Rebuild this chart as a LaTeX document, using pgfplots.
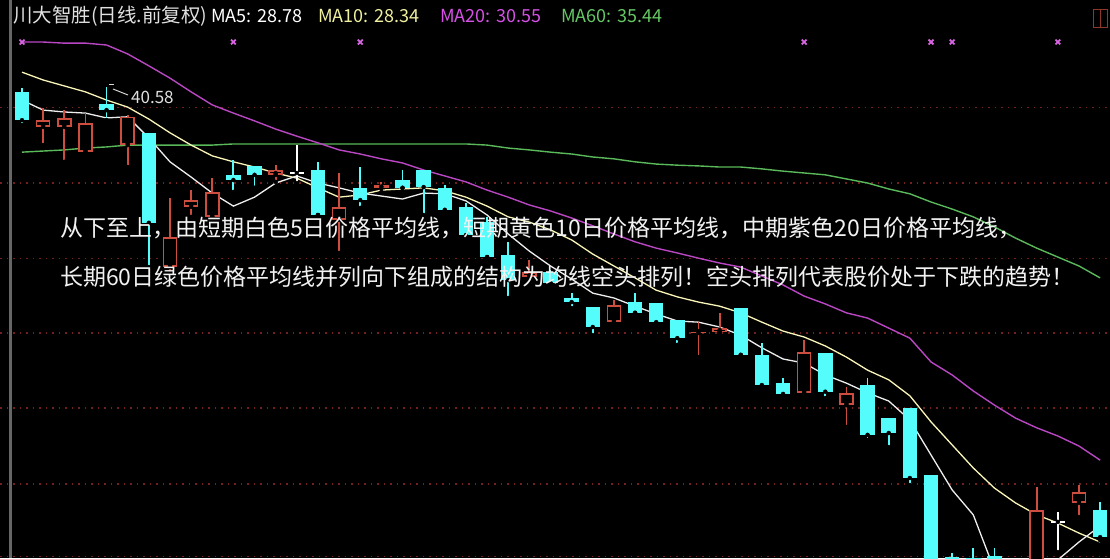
\documentclass[border=0pt]{standalone}
\usepackage{fontspec}
\usepackage{pgfplots}
\pgfplotsset{compat=1.18}
\usepackage{pgfplotstable}
\newfontfamily\cjk{Noto Sans CJK SC}
\definecolor{kcyan}{RGB}{84,252,252}
\definecolor{kred}{RGB}{205,78,62}
\definecolor{kgrid}{RGB}{115,32,32}
\definecolor{ma5c}{RGB}{238,238,238}
\definecolor{ma10c}{RGB}{250,245,185}
\definecolor{ma20c}{RGB}{185,70,195}
\definecolor{ma60c}{RGB}{90,185,90}
\definecolor{mkc}{RGB}{215,100,225}
\definecolor{t10}{RGB}{240,240,160}
\definecolor{t20}{RGB}{215,80,230}
\definecolor{t60}{RGB}{100,200,100}

% down (cyan) candles: index open high low close
\pgfplotstableread{
i o h l c
0 40.44 40.54 39.55 39.68
4 40.11 40.57 39.68 39.95
6 39.34 39.34 35.73 36.92
10 38.21 38.61 37.75 38.07
11 38.45 38.45 37.86 38.21
14 38.34 38.56 37.13 37.13
16 37.86 38.42 37.32 37.53
18 38.07 38.34 37.86 37.86
19 38.34 38.34 37.13 37.88
20 37.86 37.94 37.21 37.27
21 37.35 37.45 36.51 36.59
22 36.94 37.08 36.00 36.00
23 36.06 36.41 34.90 35.38
25 35.60 35.65 35.30 35.30
26 34.90 35.03 34.63 34.79
27 34.66 34.66 33.90 34.12
29 34.79 35.03 34.50 34.50
30 34.77 34.77 34.23 34.25
31 34.31 34.31 33.64 33.82
34 34.63 34.63 33.37 33.37
35 33.37 33.69 32.51 32.56
36 32.61 32.75 32.24 32.32
38 33.42 33.42 32.21 32.38
40 32.56 32.75 31.08 31.22
41 31.67 31.67 30.89 31.27
42 31.94 31.94 29.87 30.06
43 30.14 30.14 26.50 26.78
44 27.95 28.04 27.40 27.60
45 27.90 28.18 27.50 27.70
46 27.97 28.18 27.70 27.85
47 27.60 27.80 27.20 27.40
51 29.20 29.42 28.39 28.47
}\dncandles

% up (red, hollow) candles
\pgfplotstableread{
i o h l c
1 39.50 40.01 39.01 39.68
2 39.50 39.95 38.56 39.74
3 38.82 39.87 38.82 39.60
5 39.01 39.82 38.42 39.77
7 35.73 37.59 35.57 36.54
8 37.35 37.80 37.08 37.53
9 37.08 38.12 37.08 37.75
12 38.21 38.47 38.02 38.34
15 37.00 38.26 36.11 37.35
17 37.85 38.02 37.75 37.93
24 35.46 35.92 35.38 35.60
28 34.25 34.85 34.25 34.71
32 33.96 34.25 33.31 33.99
33 33.99 34.50 33.99 34.09
37 32.35 33.77 32.24 33.45
39 32.02 32.51 31.43 32.35
48 27.60 29.82 27.40 29.20
50 29.39 29.87 29.01 29.68
}\upcandles

% doji (white) candles
\pgfplotstableread{
i o h l c
13 38.26 39.01 37.99 38.26
49 28.88 29.15 28.07 28.88
}\djcandles

% moving averages
\pgfplotstableread{
i ma5 ma10 ma20 ma60
0 40.22 40.97 41.78 38.82
1 39.95 40.76 41.78 38.85
2 39.90 40.60 41.75 38.88
3 39.87 40.44 41.75 38.93
4 39.74 40.22 41.70 38.96
5 39.77 40.03 41.46 39.01
6 39.20 39.71 41.14 39.01
7 38.56 39.34 40.81 39.01
8 38.15 39.01 40.44 39.01
9 37.72 38.72 40.09 39.01
10 37.37 38.56 39.87 39.04
11 37.61 38.42 39.66 39.04
12 37.99 38.26 39.44 39.04
13 38.18 38.12 39.25 39.04
14 37.99 37.86 39.07 39.04
15 37.86 37.61 38.88 39.04
16 37.72 37.67 38.77 39.04
17 37.64 37.80 38.64 39.04
18 37.56 37.83 38.53 39.04
19 37.72 37.86 38.34 39.04
20 37.70 37.78 38.18 39.04
21 37.51 37.61 38.02 39.04
22 37.13 37.37 37.80 39.01
23 36.62 37.08 37.61 38.93
24 36.16 36.94 37.40 38.88
25 35.76 36.73 37.24 38.82
26 35.41 36.46 37.05 38.77
27 35.03 36.08 36.84 38.69
28 34.90 35.76 36.62 38.64
29 34.68 35.44 36.41 38.56
30 34.47 35.11 36.24 38.50
31 34.28 34.93 36.11 38.47
32 34.25 34.79 35.97 38.45
33 34.12 34.68 35.84 38.42
34 33.90 34.50 35.73 38.42
35 33.56 34.25 35.49 38.37
36 33.26 34.01 35.25 38.31
37 33.15 33.85 34.95 38.26
38 32.83 33.61 34.74 38.21
39 32.61 33.31 34.50 38.10
40 32.35 32.96 34.36 37.99
41 32.13 32.70 34.09 37.83
42 31.62 32.27 33.82 37.70
43 30.68 31.57 33.18 37.48
44 29.74 30.95 32.83 37.29
45 29.07 30.33 32.40 37.08
46 27.59 29.79 32.02 36.81
47 27.32 29.39 31.67 36.51
48 27.53 29.07 31.41 36.24
49 27.86 28.85 31.19 36.00
50 28.34 28.58 30.92 35.76
51 28.77 28.34 30.54 35.44
}\mas

% event markers
\pgfplotstableread{
i y
0 41.78
10 41.78
16 41.78
37 41.78
43 41.78
44 41.78
49 41.78
}\marks

\begin{document}
\begin{tikzpicture}
\fill[black] (0,0) rectangle (1110pt,558pt);
\path[use as bounding box] (0,0) rectangle (1110pt,558pt);
\fill[black!60!white] (9pt,0pt) rectangle (12pt,558pt);
\begin{axis}[
  at={(0pt,0pt)}, anchor=south west,
  scale only axis, width=1110pt, height=558pt,
  xmin=-1.0407, xmax=51.466, ymin=27.91, ymax=42.91,
  axis line style={draw=none},
  xtick=\empty,
  ytick={40.01,37.99,35.97,33.96,31.94,29.90,27.96},
  yticklabels={},
  major tick length=0pt,
  ymajorgrids,
  grid style={kgrid, line width=1.2pt, dash pattern=on 1.5pt off 5pt},
]
% MA lines
\addplot[ma60c, line width=1.4pt] table[x=i, y=ma60] {\mas};
\addplot[ma20c, line width=1.4pt] table[x=i, y=ma20] {\mas};
\addplot[ma10c, line width=1.3pt] table[x=i, y=ma10] {\mas};
\addplot[ma5c, line width=1.3pt] table[x=i, y=ma5] {\mas};

% wicks
\addplot[only marks, mark=none, error bars/.cd, y dir=plus, y explicit, error mark=none,
  error bar style={kcyan, line width=1.8pt}]
  table[x=i, y=l, y error plus expr={\thisrow{h}-\thisrow{l}}] {\dncandles};
\addplot[only marks, mark=none, error bars/.cd, y dir=plus, y explicit, error mark=none,
  error bar style={kred, line width=1.8pt}]
  table[x=i, y=l, y error plus expr={\thisrow{h}-\thisrow{l}}] {\upcandles};
\addplot[only marks, mark=none, error bars/.cd, y dir=plus, y explicit, error mark=none,
  error bar style={white, line width=1.8pt}]
  table[x=i, y=l, y error plus expr={\thisrow{h}-\thisrow{l}}] {\djcandles};

% bodies
\addplot[only marks, mark=none, error bars/.cd, y dir=plus, y explicit, error mark=none,
  error bar style={kcyan, line width=14.5pt}]
  table[x=i, y=c, y error plus expr={\thisrow{o}-\thisrow{c}}] {\dncandles};
\addplot[only marks, mark=none, error bars/.cd, y dir=plus, y explicit, error mark=none,
  error bar style={kred, line width=14.5pt}]
  table[x=i, y=o, y error plus expr={\thisrow{c}-\thisrow{o}}] {\upcandles};
\addplot[only marks, mark=none, error bars/.cd, y dir=plus, y explicit, error mark=none,
  error bar style={black, line width=11.5pt}]
  table[x=i, y expr={\thisrow{o}+0.045}, y error plus expr={max(\thisrow{c}-\thisrow{o}-0.09,0)}] {\upcandles};
\addplot[only marks, mark=none, error bars/.cd, x dir=both, x fixed=0.33, error mark=none,
  error bar style={white, line width=1.8pt}]
  table[x=i, y=o] {\djcandles};

% markers
\addplot[only marks, mark=x, mark size=3.4pt, mkc, line width=1.8pt] table[x=i, y=y] {\marks};
\end{axis}

% annotations (pixel positions: x, 558-y)
\draw[black!15!white, line width=1pt] (109pt,473pt) -- (114pt,473pt);
\draw[black!15!white, line width=1pt] (113pt,469pt) -- (128pt,463pt);
\node[anchor=west, inner sep=0pt, text=black!12!white, font=\cjk\fontsize{17}{17}\selectfont] at (131pt,461pt) {40.58};

\draw[kred!70!black, line width=1pt] (1093pt,530pt) rectangle (1107pt,548pt);
\draw[kred!70!black, line width=1pt] (1100pt,530pt) -- (1100pt,548pt);

% title
\node[anchor=base west, inner sep=0pt, text=black!12!white, font=\cjk\fontsize{19.5}{19.5}\selectfont] at (13pt,535pt) {川大智胜(日线.前复权)};
\node[anchor=base west, inner sep=0pt, text=white, font=\cjk\fontsize{18}{18}\selectfont] at (211pt,535pt) {MA5: 28.78};
\node[anchor=base west, inner sep=0pt, text=t10, font=\cjk\fontsize{18}{18}\selectfont] at (318pt,535pt) {MA10: 28.34};
\node[anchor=base west, inner sep=0pt, text=t20, font=\cjk\fontsize{18}{18}\selectfont] at (440pt,535pt) {MA20: 30.55};
\node[anchor=base west, inner sep=0pt, text=t60, font=\cjk\fontsize{18}{18}\selectfont] at (561pt,535pt) {MA60: 35.44};

% overlay explanation
\node[anchor=west, inner sep=0pt, text=black!5!white, font=\cjk\fontsize{23}{23}\selectfont] at (60pt,330pt) {从下至上，由短期白色5日价格平均线，短期黄色10日价格平均线，中期紫色20日价格平均线，};
\node[anchor=west, inner sep=0pt, text=black!5!white, font=\cjk\fontsize{23}{23}\selectfont] at (60pt,281pt) {长期60日绿色价格平均线并列向下组成的结构为均线空头排列！空头排列代表股价处于下跌的趋势！};
\end{tikzpicture}
\end{document}
